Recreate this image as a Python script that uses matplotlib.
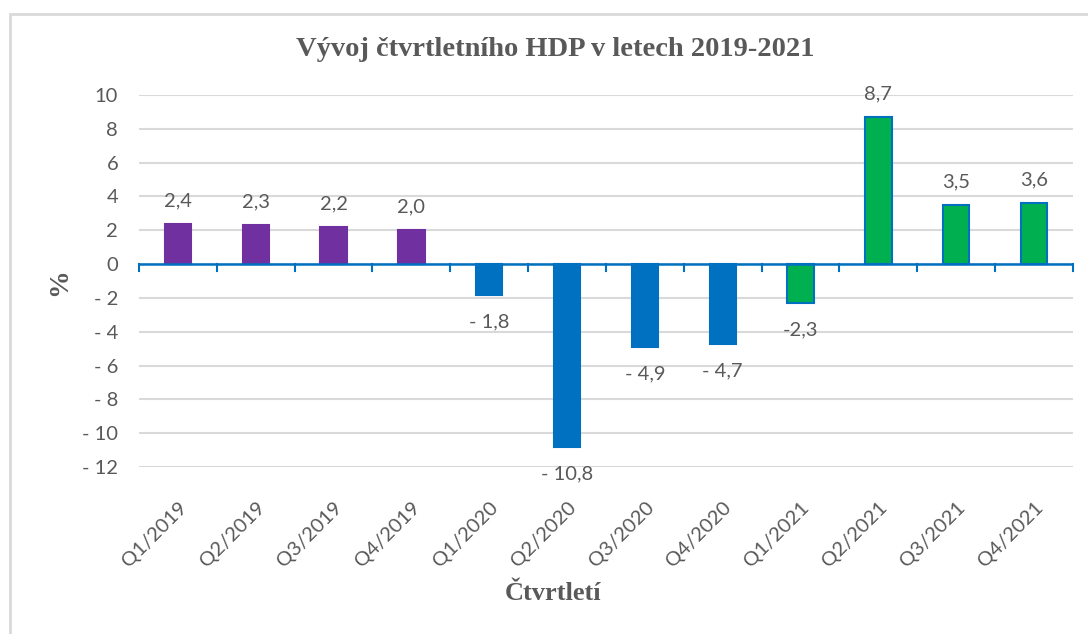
import matplotlib
matplotlib.use("Agg")
import matplotlib.pyplot as plt
import matplotlib.patches as patches
from matplotlib.ticker import FuncFormatter

# data
quarters = ["Q1/2019", "Q2/2019", "Q3/2019", "Q4/2019",
            "Q1/2020", "Q2/2020", "Q3/2020", "Q4/2020",
            "Q1/2021", "Q2/2021", "Q3/2021", "Q4/2021"]
hdp = [2.4, 2.3, 2.2, 2.0, -1.8, -10.8, -4.9, -4.7, -2.3, 8.7, 3.5, 3.6]
labels = ["2,4", "2,3", "2,2", "2,0", "- 1,8", "- 10,8", "- 4,9", "- 4,7",
          "-2,3", "8,7", "3,5", "3,6"]
years = ["2019"] * 4 + ["2020"] * 4 + ["2021"] * 4

year_colors = {"2019": "#7030A0", "2020": "#0070C0", "2021": "#00B050"}
year_edges = {"2019": "#7030A0", "2020": "#0070C0", "2021": "#0070C0"}
grey = "#595959"
sans = "Lato"

W, H = 1088, 634
fig = plt.figure(figsize=(W / 100, H / 100), dpi=100)
ax = fig.add_axes([139 / W, 1 - 467 / H, (1073 - 139) / W, (467 - 95) / H])

x = list(range(len(quarters)))
for i, v in enumerate(hdp):
    ax.bar(i, v, width=0.34, color=year_colors[years[i]],
           edgecolor=year_edges[years[i]], linewidth=1.5, zorder=3)
    off = 16.5 if v >= 0 else -19.5  # label centre distance from bar end
    ax.annotate(labels[i], (i, v), xytext=(0, off), textcoords="offset points",
                ha="center", va="center", fontsize=14.5, color=grey,
                family=sans)

ax.set_xlim(-0.5, len(quarters) - 0.5)
ax.set_ylim(-12, 10)
ax.set_yticks(range(-12, 11, 2))
ax.yaxis.set_major_formatter(FuncFormatter(lambda v, p: f"- {abs(int(v))}" if v < 0 else f"{int(v)}"))
ax.grid(axis="y", color="#D9D9D9", linewidth=1.5, zorder=0)
ax.tick_params(axis="y", length=0, labelsize=14.5, labelcolor=grey, pad=15)

for s in ["top", "right", "left", "bottom"]:
    ax.spines[s].set_visible(False)
ax.axhline(0, color="#0070C0", linewidth=1.8, zorder=4)

# category boundary ticks hanging under the zero line
for b in range(len(quarters) + 1):
    ax.plot([b - 0.5, b - 0.5], [0, -0.4], color="#0070C0", linewidth=1.5,
            zorder=4, clip_on=False)

ax.set_xticks(x)
ax.set_xticklabels(quarters, rotation=45, ha="right", va="top",
                   rotation_mode="anchor", fontsize=14.5, color=grey, family=sans)
ax.tick_params(axis="x", length=0, pad=23)
for t in ax.get_yticklabels():
    t.set_family(sans)

fig.text(555 / W, 1 - 50 / H, "Vývoj čtvrtletního HDP v letech 2019-2021",
         ha="center", va="center", fontsize=20.5, fontweight="bold",
         color=grey, family="Liberation Serif")
fig.text(553 / W, 1 - 594 / H, "Čtvrtletí", ha="center", va="center",
         fontsize=19, fontweight="bold", color=grey, family="Liberation Serif")
fig.text(60 / W, 1 - 282 / H, "%", ha="center", va="center", rotation=90,
         fontsize=20, fontweight="bold", color=grey, family="Liberation Serif")

# outer chart frame, right and bottom edges fall outside the picture
fig.add_artist(patches.Rectangle((10 / W, -0.1), 1.2, 1.1 - 14 / H,
                                 transform=fig.transFigure, fill=False,
                                 edgecolor="#D9D9D9", linewidth=2))

fig.savefig("out.png", dpi=100)
